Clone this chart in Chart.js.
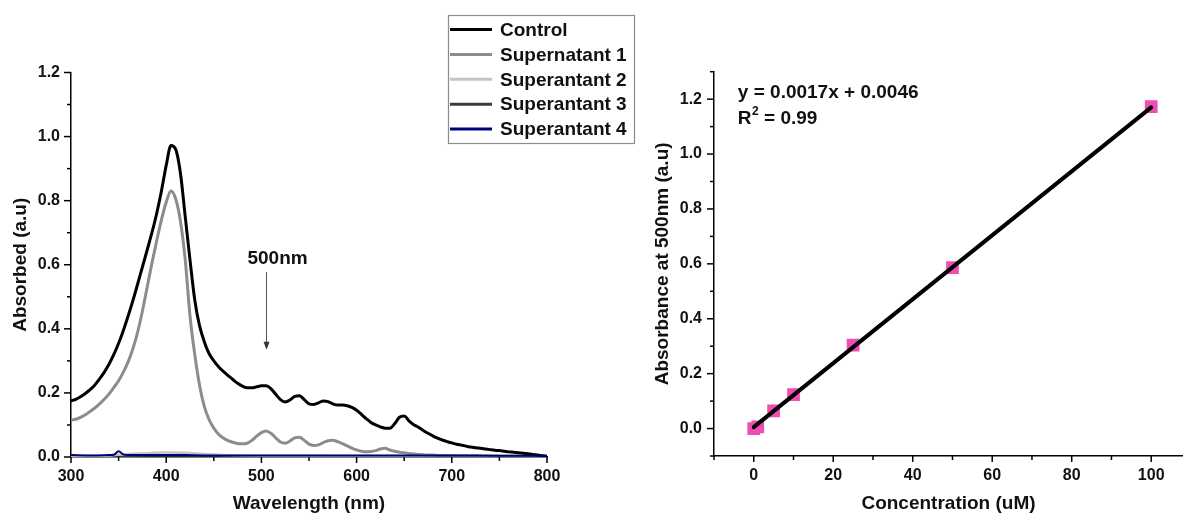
<!DOCTYPE html>
<html>
<head>
<meta charset="utf-8">
<script src="https://cdn.jsdelivr.net/npm/chart.js@4.4.1/dist/chart.umd.min.js"></script>
<style>
    html, body { margin: 0; padding: 0; background: #fff; }
    #wrap { position: relative; width: 1183px; height: 517px; overflow: hidden; }
    #spectra { position: absolute; left: 0; top: 0; }
    #calib { position: absolute; left: 640px; top: 0; }
</style>
</head>
<body>
<div id="wrap">
    <canvas id="spectra" width="640" height="517"></canvas>
    <canvas id="calib" width="543" height="517"></canvas>
</div>
<script>
// ===== left panel: UV-vis spectra =====
const wavelength = [
    300, 305, 310, 315, 320, 325, 330, 335, 340, 345,
    350, 355, 360, 365, 370, 375, 380, 385, 390, 395,
    400, 405, 410, 415, 420, 425, 430, 435, 440, 445,
    450, 455, 460, 465, 470, 475, 480, 485, 490, 495,
    500, 505, 510, 515, 520, 525, 530, 535, 540, 545,
    550, 555, 560, 565, 570, 575, 580, 585, 590, 595,
    600, 605, 610, 615, 620, 625, 630, 635, 640, 645,
    650, 655, 660, 665, 670, 675, 680, 685, 690, 695,
    700, 705, 710, 715, 720, 725, 730, 735, 740, 745,
    750, 755, 760, 765, 770, 775, 780, 785, 790, 795,
    800
];

const control = [
    0.175, 0.180, 0.188, 0.198, 0.210, 0.225, 0.244, 0.265, 0.290, 0.320,
    0.355, 0.395, 0.440, 0.488, 0.540, 0.593, 0.646, 0.700, 0.760, 0.830,
    0.910, 0.972, 0.960, 0.885, 0.750, 0.615, 0.490, 0.410, 0.360, 0.323,
    0.300, 0.282, 0.267, 0.254, 0.242, 0.230, 0.221, 0.216, 0.216, 0.219,
    0.222, 0.222, 0.213, 0.196, 0.179, 0.172, 0.178, 0.189, 0.191, 0.179,
    0.166, 0.164, 0.169, 0.175, 0.173, 0.166, 0.162, 0.162, 0.160, 0.155,
    0.146, 0.133, 0.120, 0.108, 0.100, 0.094, 0.090, 0.090, 0.104, 0.124,
    0.128, 0.113, 0.101, 0.093, 0.083, 0.074, 0.066, 0.059, 0.053, 0.048,
    0.044, 0.040, 0.037, 0.034, 0.031, 0.029, 0.027, 0.025, 0.023, 0.021,
    0.020, 0.018, 0.016, 0.015, 0.013, 0.012, 0.010, 0.008, 0.006, 0.004,
    0.002
];

const supernatant1 = [
    0.115, 0.118, 0.124, 0.132, 0.142, 0.153, 0.166, 0.180, 0.197, 0.217,
    0.238, 0.265, 0.297, 0.338, 0.390, 0.455, 0.530, 0.605, 0.675, 0.740,
    0.795, 0.830, 0.805, 0.735, 0.615, 0.440, 0.320, 0.225, 0.158, 0.117,
    0.090, 0.071, 0.059, 0.051, 0.046, 0.042, 0.041, 0.043, 0.052, 0.065,
    0.076, 0.081, 0.074, 0.060, 0.047, 0.043, 0.050, 0.060, 0.062, 0.052,
    0.040, 0.036, 0.038, 0.045, 0.051, 0.052, 0.048, 0.042, 0.035, 0.028,
    0.022, 0.018, 0.016, 0.017, 0.020, 0.025, 0.027, 0.022, 0.018, 0.015,
    0.013, 0.011, 0.009, 0.008, 0.007, 0.006, 0.006, 0.005, 0.005, 0.004,
    0.004, 0.004, 0.003, 0.003, 0.003, 0.003, 0.003, 0.002, 0.002, 0.002,
    0.002, 0.002, 0.002, 0.002, 0.002, 0.001, 0.001, 0.001, 0.001, 0.001,
    0.001
];

// the three later supernatants sit on the baseline, a coarser grid is enough
const lowWavelength = [300, 320, 340, 345, 350, 355, 360, 380, 400, 420, 440, 460, 500, 550, 600, 650, 700, 750, 800];
const supernatant2  = [0.004, 0.004, 0.005, 0.006, 0.007, 0.008, 0.009, 0.012, 0.014, 0.013, 0.009, 0.006, 0.004, 0.004, 0.003, 0.003, 0.003, 0.003, 0.002];
const supernatant3  = [0.003, 0.003, 0.003, 0.003, 0.004, 0.003, 0.003, 0.004, 0.004, 0.004, 0.003, 0.003, 0.003, 0.003, 0.003, 0.003, 0.002, 0.002, 0.002];
const supernatant4  = [0.006, 0.005, 0.006, 0.007, 0.018, 0.008, 0.006, 0.006, 0.006, 0.006, 0.005, 0.005, 0.005, 0.005, 0.005, 0.005, 0.005, 0.004, 0.004];

const seriesNames = ['Control', 'Supernatant 1', 'Superantant 2', 'Superantant 3', 'Superantant 4'];

// arrow marking 500nm
const arrowNm = 505, arrowFrom = 0.578, arrowTo = 0.335;
const arrowText = '500nm', arrowTextNm = 517, arrowTextAbs = 0.62;

// ===== right panel: calibration =====
const concentration = [0, 1, 5, 10, 25, 50, 100];
const absorbance500 = [0.000, 0.006, 0.064, 0.124, 0.304, 0.586, 1.173];
const fitConc = [0, 100];
const fitAbs = [0.005, 1.170];
const equationText = 'y = 0.0017x + 0.0046';
const r2Text = ' = 0.99';
const eqConc = -4, eqAbs = 1.223, r2Abs = 1.130;

const FONT = "'Liberation Sans', Arial, sans-serif";
Chart.defaults.font.family = FONT;
Chart.defaults.color = '#111';

function xy(xs, ys) {
    return xs.map((x, i) => ({ x: x, y: ys[i] }));
}

// draw tick marks by hand: long ones where a label is shown, short ones else
const tickMarks = {
    id: 'tickMarks',
    afterDraw(chart) {
        const { ctx, chartArea: a, scales } = chart;
        ctx.save();
        ctx.strokeStyle = '#000';
        ctx.lineWidth = 1.5;
        scales.x.ticks.forEach(t => {
            const p = scales.x.getPixelForValue(t.value);
            const len = t.label ? 6 : 4;
            ctx.beginPath();
            ctx.moveTo(p, a.bottom);
            ctx.lineTo(p, a.bottom + len);
            ctx.stroke();
        });
        scales.y.ticks.forEach(t => {
            const p = scales.y.getPixelForValue(t.value);
            const len = t.label ? 7 : 4;
            ctx.beginPath();
            ctx.moveTo(a.left, p);
            ctx.lineTo(a.left - len, p);
            ctx.stroke();
        });
        ctx.restore();
    }
};

const boxLegend = {
    id: 'boxLegend',
    afterDraw(chart) {
        const ctx = chart.ctx;
        ctx.save();
        ctx.strokeStyle = '#8c8c8c';
        ctx.lineWidth = 1.2;
        ctx.strokeRect(448.5, 15.5, 186, 128);
        ctx.font = 'bold 19px ' + FONT;
        ctx.textBaseline = 'middle';
        ctx.fillStyle = '#111';
        chart.data.datasets.forEach((d, i) => {
            const y = 29.5 + i * 24.9;
            ctx.strokeStyle = d.borderColor;
            ctx.lineWidth = 3;
            ctx.beginPath();
            ctx.moveTo(450, y);
            ctx.lineTo(492, y);
            ctx.stroke();
            ctx.fillText(d.label, 500, y + 1);
        });
        ctx.restore();
    }
};

const arrowNote = {
    id: 'arrowNote',
    afterDraw(chart) {
        const { ctx, scales } = chart;
        const x = Math.round(scales.x.getPixelForValue(arrowNm)) + 0.5;
        const y1 = scales.y.getPixelForValue(arrowFrom);
        const y2 = scales.y.getPixelForValue(arrowTo);
        ctx.save();
        ctx.strokeStyle = '#555';
        ctx.fillStyle = '#333';
        ctx.lineWidth = 1;
        ctx.beginPath();
        ctx.moveTo(x, y1);
        ctx.lineTo(x, y2 - 6);
        ctx.stroke();
        ctx.beginPath();
        ctx.moveTo(x - 3, y2 - 8);
        ctx.lineTo(x + 3, y2 - 8);
        ctx.lineTo(x, y2);
        ctx.closePath();
        ctx.fill();
        ctx.font = 'bold 19px ' + FONT;
        ctx.fillStyle = '#111';
        ctx.textAlign = 'center';
        ctx.textBaseline = 'middle';
        ctx.fillText(arrowText, scales.x.getPixelForValue(arrowTextNm), scales.y.getPixelForValue(arrowTextAbs));
        ctx.restore();
    }
};

const equationNote = {
    id: 'equationNote',
    afterDraw(chart) {
        const { ctx, scales } = chart;
        const x = scales.x.getPixelForValue(eqConc);
        ctx.save();
        ctx.fillStyle = '#111';
        ctx.textBaseline = 'middle';
        ctx.font = 'bold 19px ' + FONT;
        ctx.fillText(equationText, x, scales.y.getPixelForValue(eqAbs));
        const yr = scales.y.getPixelForValue(r2Abs);
        ctx.fillText('R', x, yr);
        const w = ctx.measureText('R').width;
        ctx.font = 'bold 12px ' + FONT;
        ctx.fillText('2', x + w + 0.5, yr - 7);
        const w2 = ctx.measureText('2').width;
        ctx.font = 'bold 19px ' + FONT;
        ctx.fillText(r2Text, x + w + 0.5 + w2, yr);
        ctx.restore();
    }
};

const tickFont = { size: 16, weight: 'bold' };
const titleFont = { size: 19, weight: 'bold' };

function axisX(min, max, step, major, title, height) {
    return {
        type: 'linear', min: min, max: max,
        ticks: {
            stepSize: step, autoSkip: false, maxRotation: 0, includeBounds: false,
            padding: 3, font: tickFont, color: '#111',
            callback: v => (Math.round(v) % major === 0 ? String(v) : '')
        },
        grid: { drawOnChartArea: false, tickLength: 7, tickColor: 'rgba(0,0,0,0)' },
        border: { color: '#000', width: 1.5 },
        title: { display: true, text: title, font: titleFont, color: '#111', padding: { top: 0, bottom: 2 } },
        afterFit: s => { s.height = height; s.paddingLeft = 0; s.paddingRight = 0; }
    };
}

function axisY(min, max, title, width, padL, titlePad) {
    return {
        min: min, max: max,
        ticks: {
            stepSize: 0.1, autoSkip: false, padding: padL, font: tickFont, color: '#111',
            callback: v => {
                const k = Math.round(v * 10);
                return (k % 2 === 0 && k >= 0 && k <= 12) ? (k / 10).toFixed(1) : '';
            }
        },
        grid: { drawOnChartArea: false, tickLength: 7, tickColor: 'rgba(0,0,0,0)' },
        border: { color: '#000', width: 1.5 },
        title: { display: true, text: title, font: titleFont, color: '#111', padding: { top: titlePad, bottom: 0 } },
        afterFit: s => { s.width = width; s.paddingTop = 0; s.paddingBottom = 0; }
    };
}

new Chart(document.getElementById('spectra'), {
    type: 'line',
    data: {
        datasets: [
            { label: seriesNames[0], data: xy(wavelength, control), borderColor: '#000000', borderWidth: 3 },
            { label: seriesNames[1], data: xy(wavelength, supernatant1), borderColor: '#8c8c8c', borderWidth: 3 },
            { label: seriesNames[2], data: xy(lowWavelength, supernatant2), borderColor: '#c4c4c4', borderWidth: 2.5 },
            { label: seriesNames[3], data: xy(lowWavelength, supernatant3), borderColor: '#3c3c3c', borderWidth: 2 },
            { label: seriesNames[4], data: xy(lowWavelength, supernatant4), borderColor: '#00007f', borderWidth: 2, order: -1 }
        ]
    },
    options: {
        responsive: false, animation: false, devicePixelRatio: 1,
        layout: { autoPadding: false, padding: { left: 0, top: 72.5, right: 93, bottom: 0 } },
        plugins: { legend: { display: false }, tooltip: { enabled: false } },
        elements: {
            point: { radius: 0 },
            line: { cubicInterpolationMode: 'monotone', borderJoinStyle: 'round', borderCapStyle: 'round', fill: false }
        },
        scales: {
            x: axisX(300, 800, 50, 100, 'Wavelength (nm)', 60),
            y: axisY(0, 1.2, 'Absorbed (a.u)', 71, 4, 9.6)
        }
    },
    plugins: [tickMarks, boxLegend, arrowNote]
});

new Chart(document.getElementById('calib'), {
    type: 'scatter',
    data: {
        datasets: [
            {
                label: 'Linear fit', data: xy(fitConc, fitAbs), showLine: true,
                borderColor: '#000', borderWidth: 4, borderCapStyle: 'round', pointRadius: 0
            },
            {
                label: 'Standards', data: xy(concentration, absorbance500), showLine: false,
                pointStyle: 'rect', pointRadius: 9, backgroundColor: '#ef4db3', borderWidth: 0
            }
        ]
    },
    options: {
        responsive: false, animation: false, devicePixelRatio: 1,
        layout: { autoPadding: false, padding: { left: 0, top: 71.7, right: 0, bottom: 0 } },
        plugins: { legend: { display: false }, tooltip: { enabled: false } },
        scales: {
            x: axisX(-10, 108, 10, 20, 'Concentration (uM)', 61),
            y: axisY(-0.1, 1.3, 'Absorbance at 500nm (a.u)', 74, 5, 11.6)
        }
    },
    plugins: [tickMarks, equationNote]
});
</script>
</body>
</html>
